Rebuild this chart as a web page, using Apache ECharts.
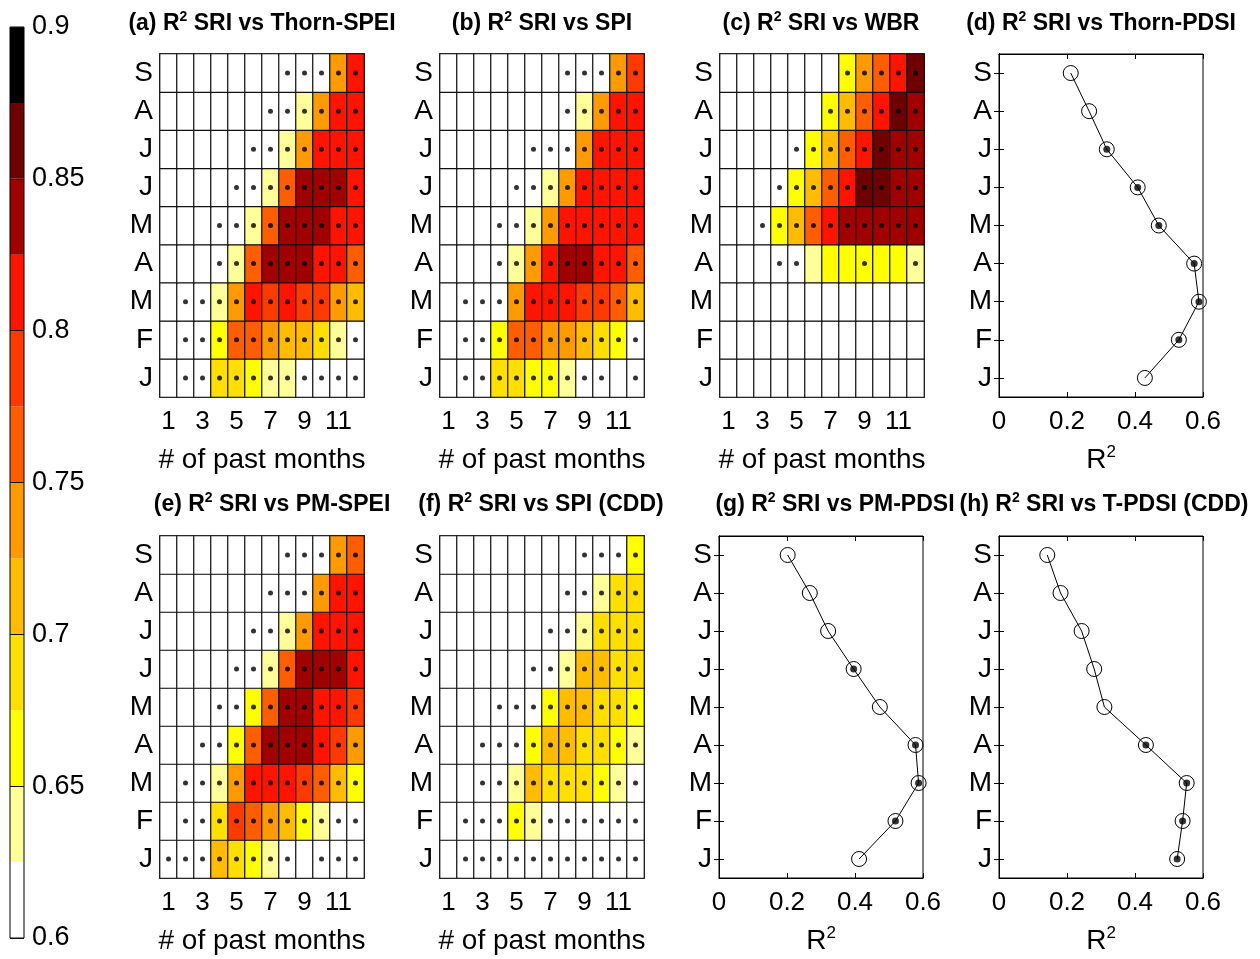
<!DOCTYPE html>
<html><head><meta charset="utf-8">
<script src="https://cdn.jsdelivr.net/npm/echarts@6/dist/echarts.min.js"></script>
<style>html,body{margin:0;padding:0;background:#fff}#c{width:1260px;height:959px}</style>
</head><body><div id="c"></div>
<script>
// ---------- categories ----------
const months = ['Jan','Feb','Mar','Apr','May','Jun','Jul','Aug','Sep']; // bottom -> top
const pastMonths = ['1','2','3','4','5','6','7','8','9','10','11','12'];

// ---------- colour scale ----------
const binEdges = [0.6,0.625,0.65,0.675,0.7,0.725,0.75,0.775,0.8,0.825,0.85,0.875,0.9];
const binColors = ['#ffffff','#ffff99','#ffff00','#ffdf00','#ffbc00','#ff9a00','#ff5e00','#ff3a00','#ff1400','#a00000','#6e0000','#000000'];

// ---------- heatmap values (rows Jan..Sep, cols 1..12 past months) ----------
const r2ThornSPEI = [
 [0.58,0.61,0.61,0.69,0.69,0.66,0.64,0.64,0.62,0.61,0.61,0.61],
 [0.58,0.61,0.61,0.66,0.76,0.76,0.74,0.71,0.71,0.69,0.64,0.62],
 [0.58,0.61,0.61,0.64,0.74,0.81,0.79,0.81,0.79,0.79,0.74,0.71],
 [0.57,0.59,0.60,0.61,0.64,0.76,0.84,0.84,0.84,0.81,0.81,0.76],
 [0.56,0.58,0.60,0.61,0.62,0.64,0.76,0.84,0.84,0.84,0.81,0.81],
 [0.55,0.57,0.59,0.60,0.61,0.62,0.64,0.76,0.84,0.84,0.84,0.81],
 [0.54,0.56,0.58,0.59,0.60,0.61,0.62,0.64,0.74,0.81,0.81,0.81],
 [0.53,0.55,0.57,0.58,0.59,0.60,0.61,0.62,0.64,0.74,0.81,0.81],
 [0.52,0.54,0.56,0.57,0.58,0.59,0.60,0.61,0.62,0.62,0.74,0.81]];
const sigThornSPEI = [
 [0,1,1,1,1,1,1,1,1,1,1,1],[0,1,1,1,1,1,1,1,1,1,1,1],[0,1,1,1,1,1,1,1,1,1,1,1],
 [0,0,0,1,1,1,1,1,1,1,1,1],[0,0,0,1,1,1,1,1,1,1,1,1],[0,0,0,0,1,1,1,1,1,1,1,1],
 [0,0,0,0,0,1,1,1,1,1,1,1],[0,0,0,0,0,0,1,1,1,1,1,1],[0,0,0,0,0,0,0,1,1,1,1,1]];

const r2SPI = [
 [0.58,0.61,0.61,0.69,0.69,0.66,0.66,0.64,0.62,0.61,0.60,0.61],
 [0.58,0.61,0.61,0.66,0.76,0.76,0.74,0.74,0.71,0.69,0.66,0.62],
 [0.58,0.61,0.61,0.62,0.74,0.81,0.81,0.81,0.79,0.79,0.76,0.71],
 [0.57,0.59,0.60,0.61,0.64,0.74,0.81,0.84,0.84,0.81,0.81,0.76],
 [0.56,0.58,0.60,0.61,0.62,0.64,0.74,0.81,0.81,0.81,0.81,0.81],
 [0.55,0.57,0.59,0.60,0.61,0.62,0.64,0.74,0.81,0.81,0.81,0.81],
 [0.54,0.56,0.58,0.59,0.60,0.61,0.62,0.62,0.74,0.81,0.81,0.81],
 [0.53,0.55,0.57,0.58,0.59,0.60,0.60,0.61,0.64,0.74,0.81,0.81],
 [0.52,0.54,0.56,0.57,0.58,0.59,0.60,0.61,0.62,0.62,0.74,0.79]];
const sigSPI = [
 [0,1,1,1,1,1,1,1,1,1,0,1],[0,1,1,1,1,1,1,1,1,1,1,1],[0,1,1,1,1,1,1,1,1,1,1,1],
 [0,0,0,1,1,1,1,1,1,1,1,1],[0,0,0,1,1,1,1,1,1,1,1,1],[0,0,0,0,1,1,1,1,1,1,1,1],
 [0,0,0,0,0,1,1,1,1,1,1,1],[0,0,0,0,0,0,0,1,1,1,1,1],[0,0,0,0,0,0,0,1,1,1,1,1]];

const r2WBR = [
 [0.40,0.42,0.43,0.44,0.45,0.46,0.47,0.48,0.49,0.50,0.51,0.52],
 [0.45,0.47,0.48,0.49,0.50,0.51,0.52,0.53,0.54,0.55,0.56,0.57],
 [0.50,0.52,0.53,0.54,0.55,0.56,0.57,0.58,0.59,0.59,0.60,0.60],
 [0.56,0.58,0.59,0.61,0.61,0.64,0.66,0.66,0.66,0.66,0.66,0.64],
 [0.58,0.60,0.61,0.66,0.71,0.76,0.81,0.84,0.84,0.84,0.84,0.84],
 [0.57,0.59,0.60,0.61,0.66,0.71,0.76,0.81,0.86,0.86,0.84,0.84],
 [0.56,0.58,0.59,0.60,0.61,0.66,0.71,0.76,0.81,0.86,0.84,0.84],
 [0.55,0.57,0.58,0.59,0.60,0.61,0.66,0.71,0.76,0.81,0.86,0.84],
 [0.54,0.56,0.57,0.58,0.59,0.60,0.61,0.66,0.74,0.76,0.81,0.86]];
const sigWBR = [
 [0,0,0,0,0,0,0,0,0,0,0,0],[0,0,0,0,0,0,0,0,0,0,0,0],[0,0,0,0,0,0,0,0,0,0,0,0],
 [0,0,0,1,1,0,0,0,1,0,0,1],[0,0,1,1,1,1,1,1,1,1,1,1],[0,0,0,1,1,1,1,1,1,1,1,1],
 [0,0,0,0,1,1,1,1,1,1,1,1],[0,0,0,0,0,0,1,1,1,1,1,1],[0,0,0,0,0,0,0,1,1,1,1,1]];

const r2PMSPEI = [
 [0.61,0.61,0.61,0.71,0.69,0.66,0.64,0.62,0.60,0.61,0.61,0.61],
 [0.58,0.61,0.61,0.69,0.79,0.76,0.74,0.71,0.66,0.64,0.62,0.61],
 [0.58,0.61,0.61,0.64,0.74,0.81,0.81,0.81,0.79,0.76,0.71,0.66],
 [0.57,0.59,0.61,0.61,0.66,0.76,0.84,0.84,0.84,0.81,0.79,0.74],
 [0.56,0.58,0.60,0.61,0.62,0.66,0.76,0.84,0.84,0.81,0.81,0.79],
 [0.55,0.57,0.59,0.60,0.61,0.62,0.64,0.76,0.84,0.84,0.84,0.81],
 [0.54,0.56,0.58,0.59,0.60,0.61,0.62,0.64,0.74,0.81,0.81,0.81],
 [0.53,0.55,0.57,0.58,0.59,0.60,0.61,0.62,0.62,0.74,0.81,0.81],
 [0.52,0.54,0.56,0.57,0.58,0.59,0.60,0.61,0.62,0.62,0.74,0.76]];
const sigPMSPEI = [
 [1,1,1,1,1,1,1,1,0,1,1,1],[0,1,1,1,1,1,1,1,1,1,1,1],[0,1,1,1,1,1,1,1,1,1,1,1],
 [0,0,1,1,1,1,1,1,1,1,1,1],[0,0,0,1,1,1,1,1,1,1,1,1],[0,0,0,0,1,1,1,1,1,1,1,1],
 [0,0,0,0,0,1,1,1,1,1,1,1],[0,0,0,0,0,0,1,1,1,1,1,1],[0,0,0,0,0,0,0,1,1,1,1,1]];

const r2SPICDD = [
 [0.58,0.61,0.61,0.61,0.61,0.61,0.61,0.61,0.61,0.61,0.61,0.61],
 [0.58,0.61,0.61,0.61,0.66,0.64,0.62,0.61,0.61,0.61,0.61,0.61],
 [0.58,0.60,0.61,0.61,0.64,0.71,0.69,0.69,0.69,0.66,0.64,0.62],
 [0.57,0.59,0.61,0.61,0.62,0.66,0.71,0.71,0.69,0.69,0.66,0.64],
 [0.56,0.58,0.60,0.61,0.61,0.62,0.66,0.71,0.71,0.69,0.69,0.66],
 [0.55,0.57,0.59,0.60,0.60,0.61,0.62,0.64,0.71,0.71,0.69,0.69],
 [0.54,0.56,0.58,0.59,0.60,0.60,0.61,0.62,0.64,0.69,0.69,0.69],
 [0.53,0.55,0.57,0.58,0.59,0.60,0.60,0.61,0.62,0.64,0.69,0.69],
 [0.52,0.54,0.56,0.57,0.58,0.59,0.60,0.60,0.61,0.61,0.62,0.66]];
const sigSPICDD = [
 [0,1,1,1,1,1,1,1,1,1,1,1],[0,1,1,1,1,1,1,1,1,1,1,1],[0,0,1,1,1,1,1,1,1,1,1,1],
 [0,0,1,1,1,1,1,1,1,1,1,1],[0,0,0,1,1,1,1,1,1,1,1,1],[0,0,0,0,0,1,1,1,1,1,1,1],
 [0,0,0,0,0,0,1,1,1,1,1,1],[0,0,0,0,0,0,0,1,1,1,1,1],[0,0,0,0,0,0,0,0,1,1,1,1]];

// ---------- line panels: R2 per month (Jan..Sep) ----------
const r2ThornPDSI = [0.429,0.529,0.588,0.574,0.470,0.408,0.317,0.265,0.211];
const sigThornPDSI = [0,1,1,1,1,1,1,0,0];
const r2PMPDSI = [0.412,0.519,0.587,0.578,0.473,0.396,0.321,0.267,0.202];
const sigPMPDSI = [0,1,1,1,0,1,0,0,0];
const r2TPDSICDD = [0.524,0.540,0.552,0.432,0.310,0.280,0.243,0.181,0.142];
const sigTPDSICDD = [1,1,1,1,0,0,0,0,0];

// ---------- layout ----------
const FONT = '"Liberation Sans", Arial, Helvetica, sans-serif';
const heatPanels = [
  {title:'(a) R{sup|2} SRI vs Thorn-SPEI', vals:r2ThornSPEI, sig:sigThornSPEI, left:160, top:54, h:343, tx:262, ty:10},
  {title:'(b) R{sup|2} SRI vs SPI', vals:r2SPI, sig:sigSPI, left:440, top:54, h:343, tx:542, ty:10},
  {title:'(c) R{sup|2} SRI vs WBR', vals:r2WBR, sig:sigWBR, left:720, top:54, h:343, tx:821, ty:10},
  {title:'(e) R{sup|2} SRI vs PM-SPEI', vals:r2PMSPEI, sig:sigPMSPEI, left:160, top:536, h:342, tx:272, ty:491},
  {title:'(f) R{sup|2} SRI vs SPI (CDD)', vals:r2SPICDD, sig:sigSPICDD, left:440, top:536, h:342, tx:541, ty:491}
];
const linePanels = [
  {title:'(d) R{sup|2} SRI vs Thorn-PDSI', vals:r2ThornPDSI, sig:sigThornPDSI, left:999, top:54, h:343, tx:1101, ty:10},
  {title:'(g) R{sup|2} SRI vs PM-PDSI', vals:r2PMPDSI, sig:sigPMPDSI, left:719, top:536, h:342, tx:835, ty:491},
  {title:'(h) R{sup|2} SRI vs T-PDSI (CDD)', vals:r2TPDSICDD, sig:sigTPDSICDD, left:999, top:536, h:342, tx:1104, ty:491}
];

const grids = [], xAxes = [], yAxes = [], series = [], titles = [];
const heatSeriesIdx = [];
const blk = '#000';

// colour bar
grids.push({left:10, top:27, width:14, height:911, show:true, borderColor:blk, borderWidth:1, backgroundColor:'transparent'});
xAxes.push({gridIndex:0, type:'value', min:0, max:1, show:false});
yAxes.push({gridIndex:0, type:'value', min:0.6, max:0.9, interval:0.05, position:'right',
  axisLine:{show:false}, axisTick:{show:false},
  splitLine:{show:true, lineStyle:{color:'#111', width:1}},
  axisLabel:{fontSize:27, color:blk, fontFamily:FONT, margin:8}});
series.push({type:'custom', xAxisIndex:0, yAxisIndex:0, z:-1, silent:true,
  data: binColors.map((c,i)=>[binEdges[i], binEdges[i+1], i]),
  encode:{x:-1, y:[0,1]},
  renderItem:(params, api)=>{
    const p1 = api.coord([0, api.value(1)]);
    const p2 = api.coord([1, api.value(0)]);
    return {type:'rect', shape:{x:p1[0], y:p1[1], width:p2[0]-p1[0], height:p2[1]-p1[1]},
      style:{fill: binColors[api.value(2)]}};
  }});

const titleStyle = {fontSize:23, fontWeight:'bold', fontFamily:FONT, color:blk, lineHeight:28,
  rich:{sup:{fontSize:14, fontWeight:'bold', fontFamily:FONT, color:blk, verticalAlign:'top', lineHeight:28}}};

function addTitle(p){
  titles.push({text:p.title, left:p.tx, top:p.ty, textAlign:'center', padding:0, textStyle:titleStyle});
}

heatPanels.forEach(p=>{
  const g = grids.length;
  grids.push({left:p.left, top:p.top, width:204, height:p.h, show:true, borderColor:blk, borderWidth:1.5, backgroundColor:'transparent'});
  const xi = xAxes.length, yi = yAxes.length;
  xAxes.push({gridIndex:g, type:'category', data:pastMonths, axisLine:{show:false}, axisTick:{show:false},
    splitLine:{show:false},
    axisLabel:{interval:1, fontSize:26, color:blk, fontFamily:FONT, margin:12},
    name:'# of past months', nameLocation:'middle', nameGap:49,
    nameTextStyle:{fontSize:28, color:blk, fontFamily:FONT}});
  yAxes.push({gridIndex:g, type:'category', data:months, axisLine:{show:false}, axisTick:{show:false},
    splitLine:{show:false},
    axisLabel:{formatter:v=>v.charAt(0), fontSize:28, color:blk, fontFamily:FONT, margin:7}});
  const hd = [], sd = [];
  p.vals.forEach((row, m)=>row.forEach((v, k)=>{
    hd.push([k, m, v]);
    if (p.sig[m][k]) sd.push([k, m]);
  }));
  heatSeriesIdx.push(series.length);
  series.push({type:'heatmap', xAxisIndex:xi, yAxisIndex:yi, data:hd, silent:true,
    itemStyle:{borderColor:'#111', borderWidth:1.2}, emphasis:{disabled:true}});
  series.push({type:'scatter', xAxisIndex:xi, yAxisIndex:yi, data:sd, symbol:'circle', symbolSize:5,
    itemStyle:{color:blk}, silent:true, z:5});
  addTitle(p);
});

linePanels.forEach(p=>{
  const g = grids.length;
  grids.push({left:p.left, top:p.top, width:204, height:p.h, show:true, borderColor:blk, borderWidth:1, backgroundColor:'transparent'});
  const xi = xAxes.length, yi = yAxes.length;
  const tick = {show:true, inside:true, length:5, lineStyle:{color:blk}};
  xAxes.push({gridIndex:g, type:'value', min:0, max:0.6, interval:0.2, position:'bottom',
    axisLine:{show:true, lineStyle:{color:blk}}, axisTick:tick, splitLine:{show:false},
    axisLabel:{fontSize:26, color:blk, fontFamily:FONT, margin:12},
    name:'R{s|2}', nameLocation:'middle', nameGap:47,
    nameTextStyle:{fontSize:28, color:blk, fontFamily:FONT, lineHeight:32,
      rich:{s:{fontSize:17, color:blk, fontFamily:FONT, verticalAlign:'top', lineHeight:32}}}});
  xAxes.push({gridIndex:g, type:'value', min:0, max:0.6, interval:0.2, position:'top',
    axisLine:{show:true, lineStyle:{color:blk}}, axisTick:tick, splitLine:{show:false}, axisLabel:{show:false}});
  yAxes.push({gridIndex:g, type:'category', data:months, position:'left',
    axisLine:{show:true, lineStyle:{color:blk}}, axisTick:Object.assign({alignWithLabel:true}, tick),
    splitLine:{show:false},
    axisLabel:{formatter:v=>v.charAt(0), fontSize:28, color:blk, fontFamily:FONT, margin:7}});
  yAxes.push({gridIndex:g, type:'category', data:months, position:'right',
    axisLine:{show:true, lineStyle:{color:blk}}, axisTick:Object.assign({alignWithLabel:true}, tick),
    splitLine:{show:false}, axisLabel:{show:false}});
  const ld = p.vals.map((v, m)=>[v, m]);
  const fd = p.vals.map((v, m)=>p.sig[m] ? [v, m] : null).filter(d=>d);
  series.push({type:'line', xAxisIndex:xi, yAxisIndex:yi, data:ld, symbol:'circle', symbolSize:15,
    showAllSymbol:true, silent:true,
    lineStyle:{color:blk, width:1}, itemStyle:{color:'rgba(255,255,255,0)', borderColor:blk, borderWidth:1}});
  series.push({type:'scatter', xAxisIndex:xi, yAxisIndex:yi, data:fd, symbol:'circle', symbolSize:7,
    itemStyle:{color:blk}, silent:true, z:5});
  addTitle(p);
});

const pieces = [{lt:binEdges[1], color:binColors[0]}];
for (let i = 1; i < binColors.length; i++) {
  pieces.push({gte:binEdges[i], lt:(i === binColors.length-1 ? 10 : binEdges[i+1]), color:binColors[i]});
}

const option = {
  animation:false,
  backgroundColor:'#fff',
  title:titles,
  grid:grids, xAxis:xAxes, yAxis:yAxes,
  visualMap:{type:'piecewise', show:false, dimension:2, seriesIndex:heatSeriesIdx, pieces:pieces},
  series:series
};
const chart = echarts.init(document.getElementById('c'), null, {renderer:'canvas'});
chart.setOption(option);
</script></body></html>
